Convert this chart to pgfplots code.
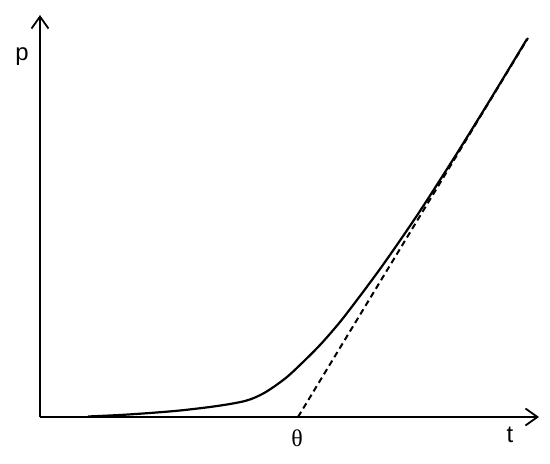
\documentclass[border=0pt]{standalone}
\usepackage{fontspec}
\setmainfont{Liberation Sans}
\newfontfamily\seriffont{Liberation Serif}
\usepackage{pgfplots}
\pgfplotsset{compat=1.18}
\usetikzlibrary{arrows.meta}
\begin{document}
\begin{tikzpicture}
\begin{axis}[
  x=1bp, y=1bp,
  xmin=0, xmax=499,
  ymin=0, ymax=402,
  axis x line=bottom,
  axis y line=left,
  axis line style={line width=1.8bp, -{Straight Barb[length=12bp,width=17bp,line width=1.8bp]}},
  ticks=none,
  clip=false,
]
% keep page at the reference size
\path (axis cs:-40,-47) rectangle (axis cs:510,417);

% solid curve
\addplot[line width=2.2bp, smooth, tension=0.5] coordinates {
  (48,0.5) (80,2) (110,4) (140,6.5) (170,10) (190,13) (205,16)
  (215,19.5) (225,24.5) (235,31) (247,40) (260,52) (280,72)
  (300,95) (320,121) (340,148) (360,176.5) (380,206) (400,237)
  (420,268.5) (450,317) (487,378)
};

% asymptote
\addplot[line width=2bp, dash pattern=on 6bp off 4bp] coordinates {
  (258,0) (488,379)
};

\node[font=\fontsize{24}{26}\selectfont] at (axis cs:-18,360) {p};
\node[font=\fontsize{24}{26}\selectfont] at (axis cs:470,-18) {t};
\node[font=\fontsize{24}{26}\selectfont\seriffont] at (axis cs:257,-21) {θ};
\end{axis}
\end{tikzpicture}
\end{document}
